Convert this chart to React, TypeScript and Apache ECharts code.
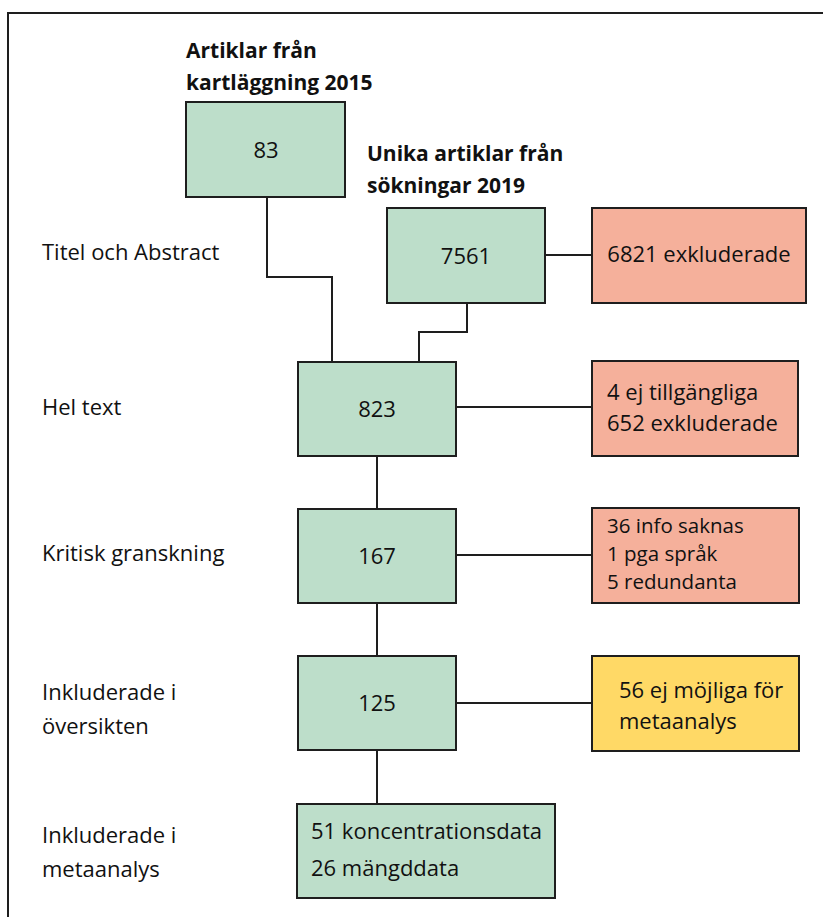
import React, { useEffect, useRef } from "react";
import * as echarts from "echarts";

// ---- Data ----
const stageLabels: string[][] = [
  ["Titel och Abstract"],
  ["Hel text"],
  ["Kritisk granskning"],
  ["Inkluderade i", "översikten"],
  ["Inkluderade i", "metaanalys"],
];
const sourceTitles: string[][] = [
  ["Artiklar från", "kartläggning 2015"],
  ["Unika artiklar från", "sökningar 2019"],
];
const sourceCounts: string[] = ["83", "7561"];
const mainCounts: string[] = ["823", "167", "125"];
const exclusions: string[][] = [
  ["6821 exkluderade"],
  ["4 ej tillgängliga", "652 exkluderade"],
  ["36 info saknas", "1 pga språk", "5 redundanta"],
  ["56 ej möjliga för", "metaanalys"],
];
const finalLines: string[] = ["51 koncentrationsdata", "26 mängddata"];

const GREEN = "#BDDECA";
const SALMON = "#F5B09B";
const YELLOW = "#FFD966";
const STROKE = "#1e1e1e";
const FONT = "'Open Sans', sans-serif";
const FS = 22;
const FSB = 21;

function box(x: number, y: number, w: number, h: number, fill: string) {
  return {
    type: "rect",
    shape: { x, y, width: w, height: h },
    style: { fill, stroke: STROKE, lineWidth: 2 },
  };
}
function txt(
  x: number,
  y: number,
  lines: string[],
  lineHeight: number,
  align: string = "left",
  bold = false,
  size?: number
) {
  const fs = size ?? (bold ? FSB : FS);
  return {
    type: "text",
    x,
    y,
    style: {
      text: lines.join("\n"),
      fill: "#111",
      font: `${bold ? "bold " : ""}${fs}px ${FONT}`,
      lineHeight,
      textAlign: align,
      textVerticalAlign: "middle",
    },
  };
}
function line(points: number[][]) {
  return {
    type: "polyline",
    shape: { points },
    style: { stroke: STROKE, lineWidth: 2, fill: "none" },
  };
}

export default function App() {
  const ref = useRef<HTMLDivElement>(null);
  useEffect(() => {
    if (!ref.current) return;
    const chart = echarts.init(ref.current, null, { renderer: "svg" });
    const els: any[] = [];

    // frame
    els.push(line([[8, 926], [8, 13], [830, 13]]));

    // connectors
    els.push(line([[267, 197], [267, 277], [332, 277], [332, 362]]));
    els.push(line([[467, 303], [467, 332], [419, 332], [419, 362]]));
    els.push(line([[545, 255], [592, 255]]));
    els.push(line([[456, 407], [592, 407]]));
    els.push(line([[377, 456], [377, 509]]));
    els.push(line([[456, 555], [592, 555]]));
    els.push(line([[377, 603], [377, 656]]));
    els.push(line([[456, 703], [592, 703]]));
    els.push(line([[377, 750], [377, 804]]));

    // source titles
    const titleX = [186, 367];
    const titleY = [66, 169];
    sourceTitles.forEach((lines, i) =>
      els.push(txt(titleX[i], titleY[i], lines, 32, "left", true))
    );

    // source boxes
    els.push(box(186, 102, 159, 95, GREEN));
    els.push(txt(266, 149, [sourceCounts[0]], 26, "center"));
    els.push(box(387, 208, 158, 95, GREEN));
    els.push(txt(466, 255, [sourceCounts[1]], 26, "center"));

    // main boxes
    const mainY = [362, 509, 656];
    mainCounts.forEach((c, i) => {
      els.push(box(298, mainY[i], 158, 94, GREEN));
      els.push(txt(377, mainY[i] + 46, [c], 26, "center"));
    });

    // exclusion boxes
    const exY = [208, 361, 508, 656];
    const exW = [214, 206, 207, 207];
    const exFill = [SALMON, SALMON, SALMON, YELLOW];
    const exTextX = [699, 607, 607, 619];
    const exAlign = ["center", "left", "left", "left"];
    const exLineGap = [26, 31, 28, 31];
    const exSize = [FS, FS, 20.5, FS];
    const exOff = [45, 45, 45, 48];
    exclusions.forEach((lines, i) => {
      els.push(box(592, exY[i], exW[i], 95, exFill[i]));
      els.push(
        txt(exTextX[i], exY[i] + exOff[i], lines, exLineGap[i], exAlign[i], false, exSize[i])
      );
    });

    // final box
    els.push(box(297, 804, 258, 94, GREEN));
    els.push(txt(311, 848, finalLines, 37, "left"));

    // stage labels
    const stageY = [251, 406, 552, 708, 851];
    stageLabels.forEach((lines, i) => {
      els.push(txt(42, stageY[i], lines, 34, "left"));
    });

    chart.setOption({
      animation: false,
      backgroundColor: "#fff",
      graphic: { elements: els },
    });
    return () => chart.dispose();
  }, []);
  return (
    <div
      ref={ref}
      style={{ position: "fixed", left: 0, top: 0, width: 823, height: 917 }}
    />
  );
}
